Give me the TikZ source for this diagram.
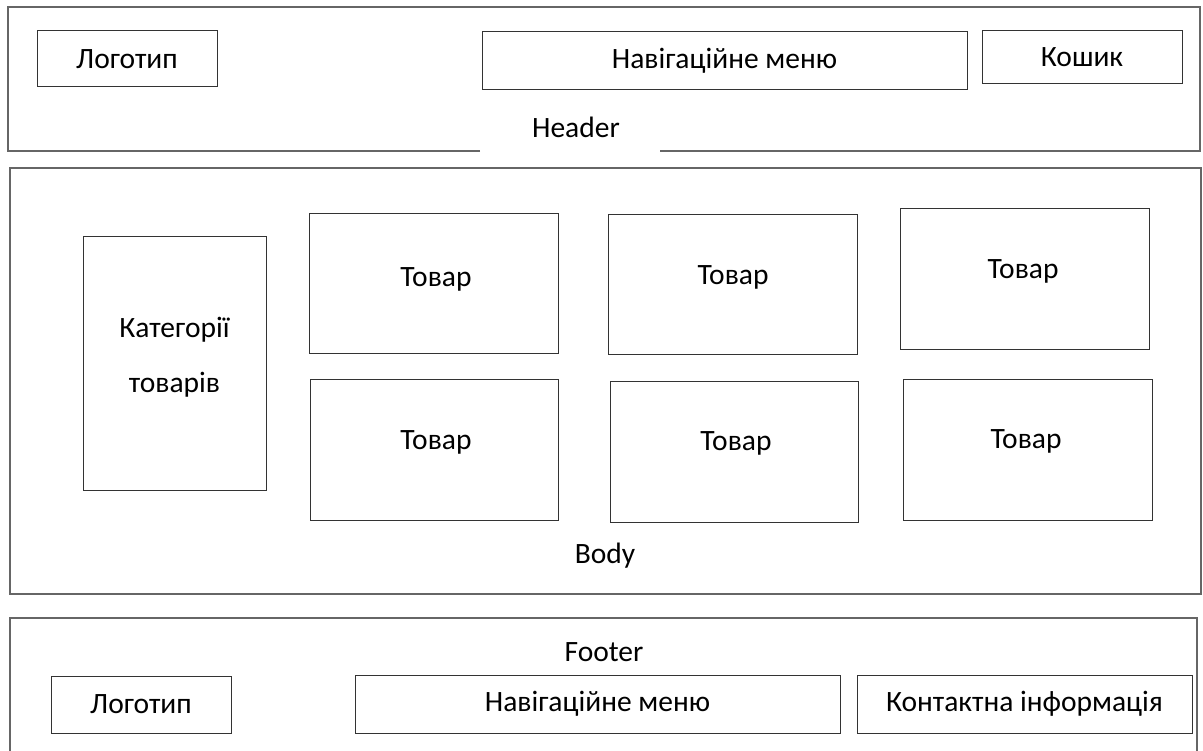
\documentclass[tikz,border=0pt]{standalone}
\usepackage{fontspec}
\setmainfont{Carlito}
\begin{document}
\begin{tikzpicture}[x=1pt,y=-1pt,
  outer/.style={draw=black!60, line width=1.3pt},
  inbox/.style={draw=black!80, line width=1pt, inner sep=0pt, font=\fontsize{29.5}{35}\selectfont},
  lbl/.style={inner sep=0pt, font=\fontsize{29.5}{35}\selectfont, text=black},
]
\useasboundingbox (0,0) rectangle (1203,751);
% Header
\draw[outer] (480,151) -- (8,151) -- (8,7) -- (1200,7) -- (1200,151) -- (660,151);
\node[inbox, minimum width=180, minimum height=56] (hlogo) at (127,59) {Логотип};
\node[inbox, minimum width=485, minimum height=58] (hnav) at (724.5,61) {Навігаційне меню};
\node[inbox, minimum width=200, minimum height=53] (hcart) at (1082,57.5) {Кошик};
\node[lbl] (hlabel) at (576,127) {Header};
% Body
\node[outer, minimum width=1191, minimum height=426, inner sep=0pt] (body) at (605.5,381) {};
\node[inbox, minimum width=183, minimum height=253] (cat) at (174.5,363.5) {};
\node[lbl, align=center, font=\fontsize{29.5}{55}\selectfont] (catl) at (174.5,357) {Категорії\\товарів};
\node[inbox, minimum width=249, minimum height=140] (p1) at (433.5,284) {};
\node[inbox, minimum width=249, minimum height=140] (p2) at (732.5,285) {};
\node[inbox, minimum width=249, minimum height=141] (p3) at (1024.5,279.5) {};
\node[inbox, minimum width=248, minimum height=140] (p4) at (434,450) {};
\node[inbox, minimum width=248, minimum height=140] (p5) at (734,452) {};
\node[inbox, minimum width=249, minimum height=140] (p6) at (1027.5,450) {};
\node[lbl] (p1l) at (436,279) {Товар};
\node[lbl] (p2l) at (733,277) {Товар};
\node[lbl] (p3l) at (1023,271) {Товар};
\node[lbl] (p4l) at (436,442) {Товар};
\node[lbl] (p5l) at (736,443) {Товар};
\node[lbl] (p6l) at (1026,441) {Товар};
\node[lbl] (blabel) at (605,556) {Body};
% Footer
\draw[outer] (10,760) -- (10,618) -- (1197,618) -- (1197,760);
\node[lbl] (flabel) at (604,652) {Footer};
\node[inbox, minimum width=180, minimum height=57] (flogo) at (141,704.5) {Логотип};
\node[inbox, minimum width=485, minimum height=58] (fnav) at (597.5,704) {Навігаційне меню};
\node[inbox, minimum width=335, minimum height=58] (fcont) at (1024.5,704) {Контактна інформація};
\end{tikzpicture}
\end{document}
